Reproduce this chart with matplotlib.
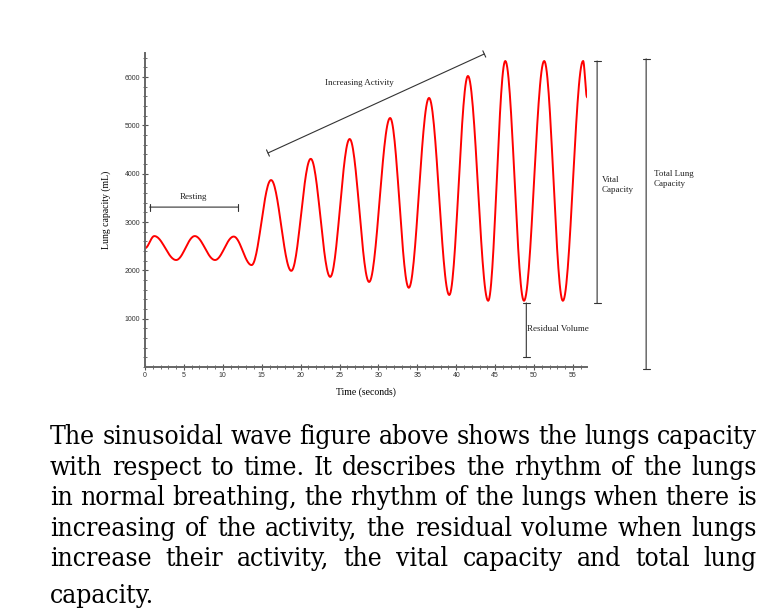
import numpy as np
import matplotlib
matplotlib.use('Agg')
from matplotlib import pyplot as plt
from matplotlib.ticker import MultipleLocator
from matplotlib.font_manager import FontProperties

# Extremos de la curva (tiempo en s, capacidad en mL)
t_ext = [0, 1.2, 4.0, 6.4, 9.0, 11.4, 13.7, 16.2, 18.8, 21.3, 23.8, 26.3, 28.8,
         31.5, 33.9, 36.5, 39.1, 41.5, 44.1, 46.3, 48.7, 51.3, 53.7, 56.3, 56.8]
v_ext = [2460, 2710, 2215, 2710, 2215, 2700, 2110, 3870, 1990, 4310, 1865, 4720, 1760,
         5155, 1640, 5570, 1490, 6025, 1370, 6335, 1370, 6335, 1370, 6335, 5590]

x_ticks = [0, 5, 10, 15, 20, 25, 30, 35, 40, 45, 50, 55]
y_ticks = [1000, 2000, 3000, 4000, 5000, 6000]

paragraph = [
    "The sinusoidal wave figure above shows the lungs capacity",
    "with respect to time. It describes the rhythm of the lungs",
    "in normal breathing, the rhythm of the lungs when there is",
    "increasing of the activity, the residual volume when lungs",
    "increase their activity, the vital capacity and total lung",
    "capacity.",
]

W, H = 781, 609
fig = plt.figure(figsize=(W / 100, H / 100), dpi=100)
ax = fig.add_axes([145 / W, 1 - 367 / H, 442 / W, 314 / H])

# curva suave: medio coseno entre extremos consecutivos
xs, ys = [], []
for i in range(len(t_ext) - 1):
    u = np.linspace(0, 1, 30)
    s = (1 - np.cos(np.pi * u)) / 2
    xs.append(t_ext[i] + (t_ext[i + 1] - t_ext[i]) * u)
    ys.append(v_ext[i] + (v_ext[i + 1] - v_ext[i]) * s)
ax.plot(np.concatenate(xs), np.concatenate(ys), color='red', lw=1.4)

ax.set_xlim(0, 56.8)
ax.set_ylim(0, 6500)
for s in ['top', 'right']:
    ax.spines[s].set_visible(False)
for s in ['left', 'bottom']:
    ax.spines[s].set_color('#666666')
    ax.spines[s].set_linewidth(1.4)

ax.set_xticks(x_ticks)
ax.set_yticks(y_ticks)
ax.xaxis.set_minor_locator(MultipleLocator(1))
ax.yaxis.set_minor_locator(MultipleLocator(200))
ax.tick_params(which='major', direction='inout', length=5, width=0.8, color='#555555',
               labelsize=5, labelcolor='#333333', pad=1)
ax.tick_params(which='minor', direction='inout', length=3, width=0.6, color='#555555')
for lab in ax.get_xticklabels() + ax.get_yticklabels():
    lab.set_family('Liberation Sans')

serif = 'Liberation Serif'
ax.set_xlabel('Time (seconds)', family=serif, fontsize=7, labelpad=6)
ax.set_ylabel('Lung capacity (mL)', family=serif, fontsize=7, labelpad=10)

line_kw = dict(arrowstyle='|-|, widthA=0.25, widthB=0.25', color='#333333', lw=0.8,
               shrinkA=0, shrinkB=0)
txt_kw = dict(family=serif, fontsize=6.5, color='#222222')

# Resting
ax.annotate('', xy=(0.6, 3310), xytext=(12.0, 3310), arrowprops=line_kw, annotation_clip=False)
ax.text(6.2, 3520, 'Resting', ha='center', va='center', **txt_kw)

# Increasing Activity
ax.annotate('', xy=(15.8, 4430), xytext=(43.6, 6480), arrowprops=line_kw, annotation_clip=False)
ax.text(27.5, 5880, 'Increasing Activity', ha='center', va='center', **txt_kw)

# Residual Volume
ax.annotate('', xy=(49.0, 1325), xytext=(49.0, 207), arrowprops=line_kw, annotation_clip=False)
ax.text(49.1, 785, 'Residual Volume', ha='left', va='center', **txt_kw)

# Vital Capacity
ax.annotate('', xy=(58.1, 6335), xytext=(58.1, 1325), arrowprops=line_kw, annotation_clip=False)
ax.text(58.7, 3950, 'Vital\nCapacity', ha='left', va='top', linespacing=1.3, **txt_kw)

# Total Lung Capacity
ax.annotate('', xy=(64.4, 6380), xytext=(64.4, -40), arrowprops=line_kw, annotation_clip=False)
ax.text(65.4, 4080, 'Total Lung\nCapacity', ha='left', va='top', linespacing=1.3, **txt_kw)

# Parrafo justificado debajo
fp = FontProperties(family='DejaVu Serif', stretch='condensed', size=19)
renderer = fig.canvas.get_renderer()
left, right = 50, 757
baselines = [444, 475, 505, 536, 566, 603]
for k, line in enumerate(paragraph):
    words = line.split()
    widths = [renderer.get_text_width_height_descent(w, fp, ismath=False)[0] for w in words]
    if k < len(paragraph) - 1 and len(words) > 1:
        gap = (right - left - sum(widths)) / (len(words) - 1)
    else:
        gap = renderer.get_text_width_height_descent('a b', fp, ismath=False)[0] - \
              renderer.get_text_width_height_descent('ab', fp, ismath=False)[0]
    x = left
    for w, wd in zip(words, widths):
        fig.text(x / W, 1 - baselines[k] / H, w, fontproperties=fp, va='baseline', ha='left')
        x += wd + gap

fig.savefig('out.png', dpi=100)
